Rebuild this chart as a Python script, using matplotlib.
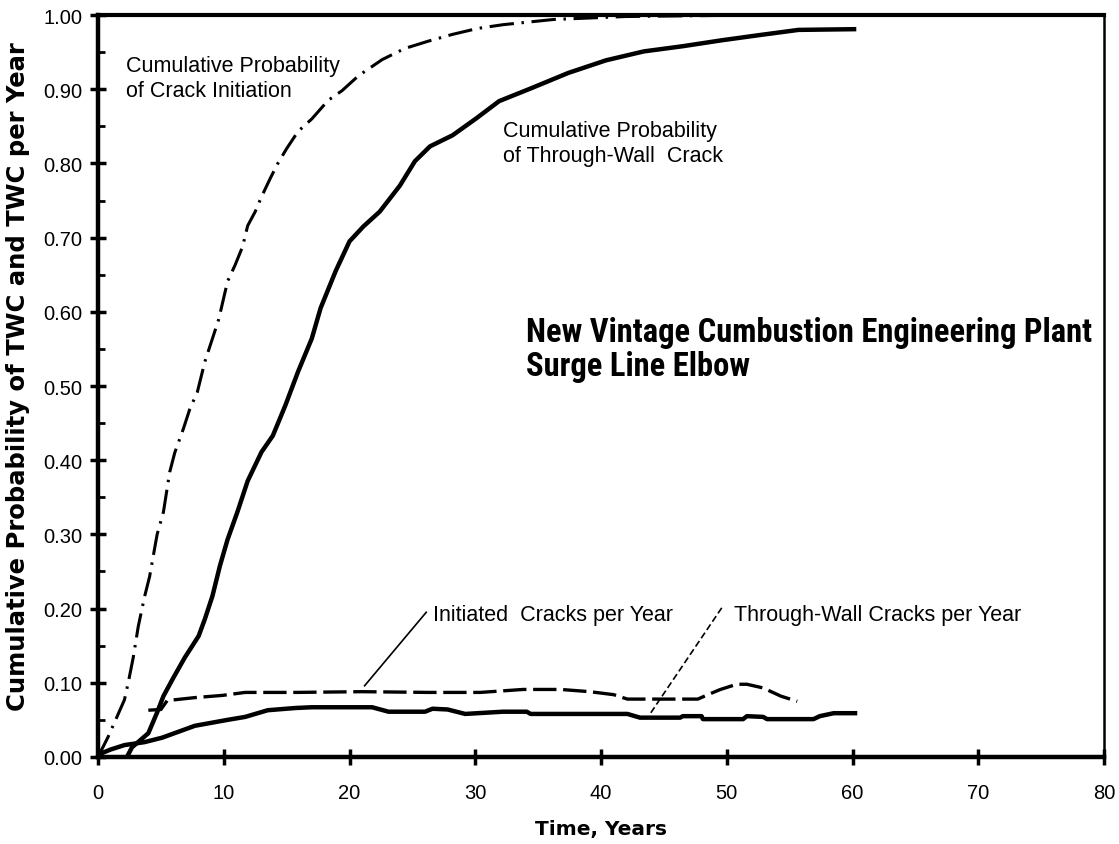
import matplotlib
matplotlib.use("Agg")
import matplotlib.pyplot as plt
from matplotlib import font_manager
from matplotlib.ticker import MultipleLocator, FormatStrFormatter

names = sorted({f.name for f in font_manager.fontManager.ttflist})

# ---- data ----
init_cum_x = [0, 0.8, 1.4, 2.1, 2.4, 2.8, 3.2, 3.7, 4.1, 4.7, 5.2, 5.7, 6.1, 6.8, 7.3, 7.9,
              8.5, 9.1, 9.6, 10.3, 10.9, 11.5, 11.9, 12.5, 13.0, 13.7, 14.3, 15.0, 15.9,
              17.0, 18.3, 19.4, 20.7, 22.6, 24.4, 26.3, 28.2, 30.2, 32.2, 36.2, 41.9, 52.0]
init_cum_y = [0, 0.027, 0.05, 0.077, 0.10, 0.134, 0.176, 0.216, 0.243, 0.30, 0.33, 0.384,
              0.41, 0.443, 0.469, 0.492, 0.533, 0.564, 0.59, 0.641, 0.663, 0.688, 0.716,
              0.735, 0.755, 0.78, 0.80, 0.82, 0.843, 0.86, 0.885, 0.898, 0.918, 0.94, 0.955,
              0.965, 0.974, 0.982, 0.987, 0.994, 0.998, 1.0]

twc_cum_x = [2.3, 2.7, 4.0, 4.7, 5.2, 6.0, 6.9, 8.0, 8.5, 9.1, 9.7, 10.3, 11.1, 11.9, 13.0,
             13.9, 14.9, 15.9, 17.0, 17.7, 18.9, 20.0, 21.1, 22.4, 24.0, 25.2, 26.4, 28.2,
             30.1, 31.9, 34.4, 37.4, 40.4, 43.4, 46.5, 49.6, 52.6, 55.7, 60.3]
twc_cum_y = [0.0, 0.013, 0.032, 0.06, 0.082, 0.107, 0.134, 0.163, 0.186, 0.217, 0.258, 0.293,
             0.331, 0.372, 0.411, 0.433, 0.474, 0.519, 0.564, 0.605, 0.655, 0.695, 0.715,
             0.735, 0.77, 0.803, 0.823, 0.838, 0.861, 0.884, 0.901, 0.922, 0.939, 0.951,
             0.958, 0.966, 0.973, 0.98, 0.981]

init_yr_x = [4.0, 5.0, 5.5, 7.7, 9.9, 11.7, 15.7, 21.0, 26.3, 30.4, 33.8, 36.8, 39.1, 41.0,
             42.1, 47.7, 48.5, 49.5, 50.8, 51.6, 52.9, 54.3, 55.6]
init_yr_y = [0.063, 0.064, 0.076, 0.08, 0.083, 0.087, 0.087, 0.088, 0.087, 0.087, 0.091,
             0.091, 0.088, 0.084, 0.078, 0.078, 0.084, 0.091, 0.098, 0.098, 0.093, 0.082, 0.075]

twc_yr_x = [0, 1.0, 2.1, 3.7, 5.1, 7.7, 10.3, 11.7, 13.5, 15.7, 17.0, 21.8, 23.1, 26.0, 26.6,
            27.8, 29.2, 32.2, 34.1, 34.4, 42.1, 43.1, 46.3, 46.5, 48.0, 48.1, 51.3, 51.6,
            52.9, 53.2, 56.9, 57.4, 58.5, 60.2]
twc_yr_y = [0.003, 0.01, 0.016, 0.02, 0.026, 0.042, 0.05, 0.054, 0.063, 0.066, 0.067, 0.067,
            0.061, 0.061, 0.065, 0.064, 0.058, 0.061, 0.061, 0.058, 0.058, 0.053, 0.053, 0.055,
            0.055, 0.051, 0.051, 0.055, 0.054, 0.051, 0.051, 0.055, 0.059, 0.059]

x_ticks = [0, 10, 20, 30, 40, 50, 60, 70, 80]
y_ticks = [0.0, 0.1, 0.2, 0.3, 0.4, 0.5, 0.6, 0.7, 0.8, 0.9, 1.0]

title_lines = ["New Vintage Cumbustion Engineering Plant", "Surge Line Elbow"]
label_init_cum = "Cumulative Probability\nof Crack Initiation"
label_twc_cum = "Cumulative Probability\nof Through-Wall  Crack"
label_init_yr = "Initiated  Cracks per Year"
label_twc_yr = "Through-Wall Cracks per Year"

# ---- fonts ----
def pick(cands):
    for c in cands:
        if c in names:
            return c
    return "DejaVu Sans"

base_font = pick(["Liberation Sans", "DejaVu Sans"])
title_font = pick(["Liberation Sans Narrow", "Roboto Condensed", "Liberation Sans"])
plt.rcParams['font.family'] = [base_font, 'DejaVu Sans']

fig = plt.figure(figsize=(11.19, 8.45), dpi=100)
ax = fig.add_axes([0.0876, 0.103, 0.899, 0.878])

ax.plot(init_cum_x, init_cum_y, color='black', lw=2.2, dashes=(8, 2.5, 0.8, 2.5))
ax.plot(twc_cum_x, twc_cum_y, color='black', lw=3.2, solid_capstyle='butt')
ax.plot(init_yr_x, init_yr_y, color='black', lw=2.4, dashes=(7, 2))
ax.plot(twc_yr_x, twc_yr_y, color='black', lw=3.2)

ax.set_xlim(0, 80)
ax.set_ylim(0, 1.0)
ax.set_xticks(x_ticks)
ax.set_yticks(y_ticks)
ax.yaxis.set_minor_locator(MultipleLocator(0.05))
ax.yaxis.set_major_formatter(FormatStrFormatter('%.2f'))
ax.tick_params(axis='both', which='major', direction='inout', length=12, width=2.5,
               labelsize=14.5, pad=5)
ax.tick_params(axis='y', which='minor', direction='in', length=5, width=2)
ax.tick_params(axis='x', pad=13)

for s, w in [('left', 3.2), ('bottom', 3.2), ('top', 3.0), ('right', 1.8)]:
    ax.spines[s].set_linewidth(w)

ax.set_xlabel("Time, Years", fontsize=14.5, fontweight='bold', labelpad=12,
              family=['DejaVu Sans'])
ax.set_ylabel("Cumulative Probability of TWC and TWC per Year", fontsize=17.5,
              fontweight='bold', labelpad=3, family=['DejaVu Sans'])
ax.yaxis.set_label_coords(-0.068, 0.514)

ax.text(2.2, 0.915, label_init_cum, fontsize=15.5, va='center', ha='left', linespacing=1.25)
ax.text(32.2, 0.828, label_twc_cum, fontsize=15.5, va='center', ha='left', linespacing=1.25)
ax.text(34.0, 0.55, "\n".join(title_lines), fontsize=23.5, fontweight='bold',
        va='center', ha='left', family=[title_font, 'DejaVu Sans'], linespacing=1.1)

ax.text(26.6, 0.192, label_init_yr, fontsize=15.5, va='center', ha='left')
ax.text(50.6, 0.192, label_twc_yr, fontsize=15.5, va='center', ha='left')

ax.plot([26.1, 21.2], [0.195, 0.096], color='black', lw=1.2)
ax.plot([49.6, 43.9], [0.201, 0.058], color='black', lw=1.2, dashes=(4, 2))

fig.savefig("out.png", dpi=100)
